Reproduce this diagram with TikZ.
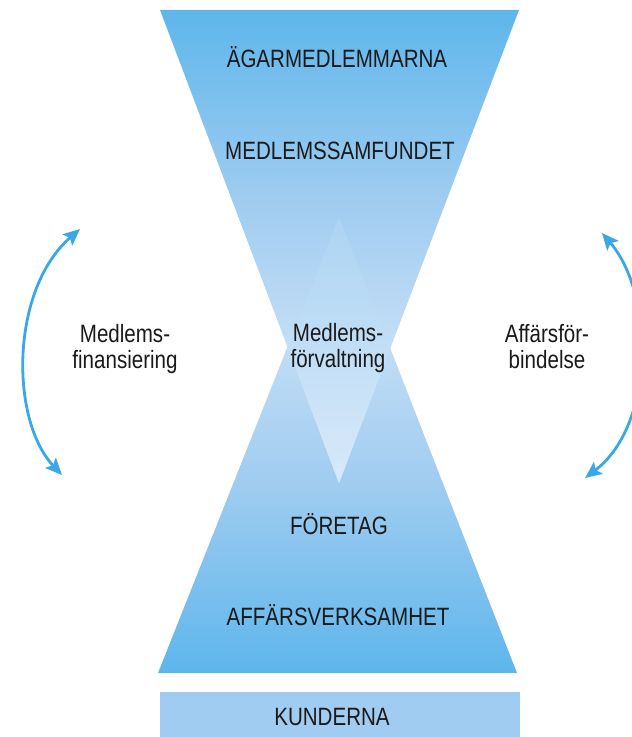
\documentclass[tikz,border=0pt]{standalone}
\usepackage{fontspec}
\setmainfont{Liberation Sans}[FakeStretch=0.82]
\usetikzlibrary{arrows.meta}
\definecolor{gA}{RGB}{93,182,236}
\definecolor{gB}{RGB}{160,204,240}
\definecolor{gC}{RGB}{195,222,246}
\definecolor{gD}{RGB}{212,231,249}
\definecolor{dTop}{RGB}{172,212,243}
\definecolor{dBot}{RGB}{216,233,249}
\definecolor{kund}{RGB}{161,204,241}
\definecolor{arrowblue}{RGB}{58,168,230}
\definecolor{txt}{RGB}{26,26,26}
\pgfdeclareverticalshading{topgrad}{100bp}{color(0bp)=(gD); color(25bp)=(gD); color(39.6bp)=(gC); color(54.9bp)=(gB); color(75bp)=(gA); color(100bp)=(gA)}
\pgfdeclareverticalshading{botgrad}{100bp}{color(0bp)=(gA); color(25bp)=(gA); color(45.8bp)=(gB); color(61.7bp)=(gC); color(75bp)=(gD); color(100bp)=(gD)}
\begin{document}
\begin{tikzpicture}[x=0.75pt,y=-0.75pt,
  lbl/.style={font=\fontsize{18.8}{18.8}\selectfont, text=txt, inner sep=0pt, align=center},
  bow/.style={draw=arrowblue, line width=2.1pt, {Stealth[length=12.5pt,width=11pt,inset=2.5pt]}-{Stealth[length=12.5pt,width=11pt,inset=2.5pt]}}]
\useasboundingbox (0,0) rectangle (631,737);
% triangle corners
\coordinate (tl) at (160,10);
\coordinate (tr) at (519,10);
\coordinate (ta) at (339,483);
\coordinate (bl) at (158,673);
\coordinate (br) at (517,673);
\coordinate (ba) at (339,217);
\shade[shading=botgrad] (bl) -- (br) -- (ba) -- cycle;
\shade[shading=topgrad] (tl) -- (tr) -- (ta) -- cycle;
\coordinate (wl) at (intersection of tl--ta and bl--ba);
\coordinate (wr) at (intersection of tr--ta and br--ba);
\shade[top color=dTop, bottom color=dBot] (ba) -- (wl) -- (ta) -- (wr) -- cycle;
% customers bar
\fill[kund] (160,692) rectangle (520,737);
% labels
\node[lbl, anchor=base] (agar) at (337,68) {ÄGARMEDLEMMARNA};
\node[lbl, anchor=base] (samf) at (340,160) {MEDLEMSSAMFUNDET};
\node[lbl, anchor=base] (forv) at (338,367) {Medlems-\\förvaltning};
\node[lbl, anchor=base] (fin) at (125,368) {Medlems-\\finansiering};
\node[lbl, anchor=base] (aff) at (547,368) {Affärsför-\\bindelse};
\node[lbl, anchor=base] (foretag) at (339,534) {FÖRETAG};
\node[lbl, anchor=base] (affv) at (338,625) {AFFÄRSVERKSAMHET};
\node[lbl, anchor=base] (kunder) at (332,725) {KUNDERNA};
% arrows
\coordinate (lt) at (80,229);
\coordinate (lb) at (62,475);
\coordinate (rt) at (602,233);
\coordinate (rb) at (585,478);
\draw[bow] (lb) .. controls (10,420) and (10,290) .. (lt);
\draw[bow] (rb) .. controls (655,425) and (655,295) .. (rt);
\end{tikzpicture}
\end{document}
